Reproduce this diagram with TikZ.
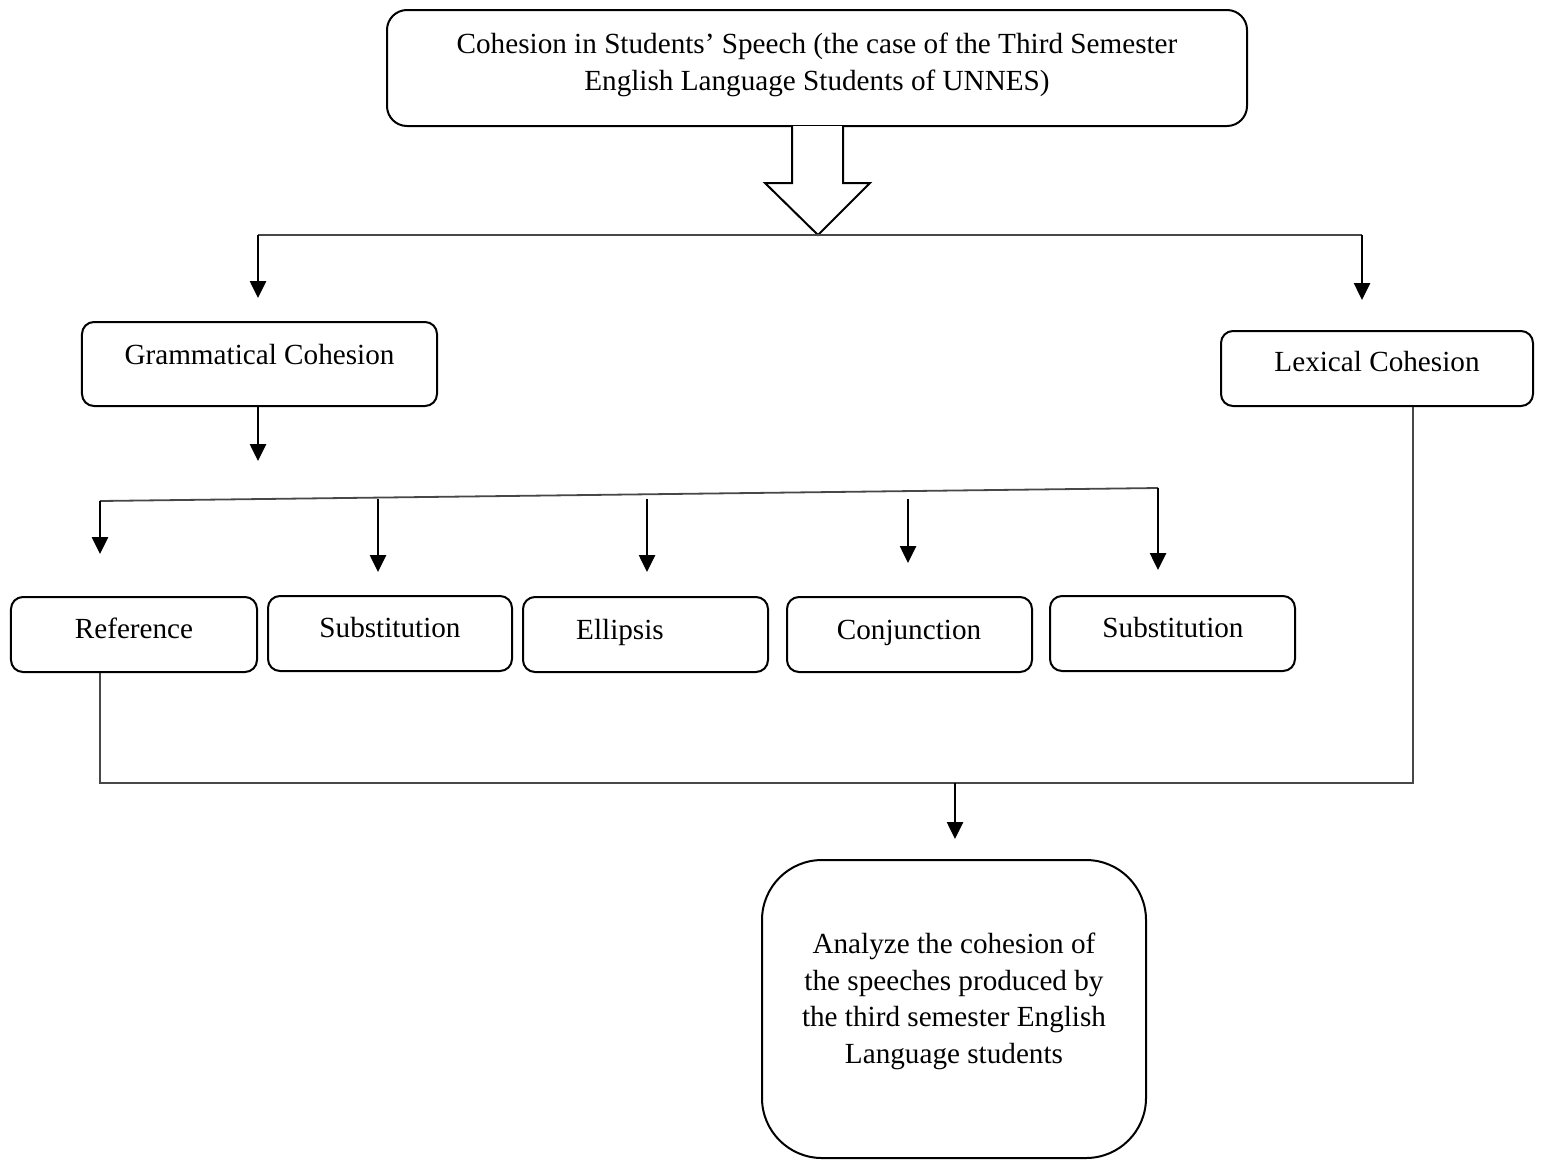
\documentclass[tikz,border=0pt]{standalone}
\usepackage{fontspec}
\setmainfont{Liberation Serif}
\usetikzlibrary{arrows.meta}
\tikzset{
  box/.style={draw, line width=2bp, rounded corners=12bp, inner sep=0pt},
  txt/.style={inner sep=0pt, anchor=base, align=center},
  conn/.style={draw=black!72, line width=1.8bp},
  arr/.style={draw=black, line width=2.6bp, -{Triangle[length=17bp,width=16bp]}},
}
\begin{document}
\begin{tikzpicture}[x=1bp,y=-1bp, font=\fontsize{29.3}{37}\selectfont]
\useasboundingbox (0,0) rectangle (1541,1159);
% boxes
\node[box, rounded corners=20bp, minimum width=860bp, minimum height=116bp] (title) at (817,68) {};
\node[box, minimum width=355bp, minimum height=84bp] (gc) at (259.5,364) {};
\node[box, minimum width=312bp, minimum height=75bp] (lc) at (1377,368.5) {};
\node[box, minimum width=246bp, minimum height=75bp] (ref) at (134,634.5) {};
\node[box, minimum width=244bp, minimum height=75bp] (sub1) at (390,633.5) {};
\node[box, minimum width=245bp, minimum height=75bp] (ell) at (645.5,634.5) {};
\node[box, minimum width=245bp, minimum height=75bp] (conj) at (909.5,634.5) {};
\node[box, minimum width=245bp, minimum height=75bp] (sub2) at (1172.5,633.5) {};
\node[box, rounded corners=60bp, minimum width=384bp, minimum height=298bp] (final) at (954,1009) {};
% texts
\node[txt] (titlet) at (817,90) {Cohesion in Students’ Speech (the case of the Third Semester\\English Language Students of UNNES)};
\node[txt] (gct) at (259.5,364) {Grammatical Cohesion};
\node[txt] (lct) at (1377,371) {Lexical Cohesion};
\node[txt] (reft) at (134,638) {Reference};
\node[txt] (sub1t) at (390,637) {Substitution};
\node[txt] (ellt) at (620,639) {Ellipsis};
\node[txt] (conjt) at (909,639) {Conjunction};
\node[txt] (sub2t) at (1173,637) {Substitution};
\node[txt, font=\fontsize{29.3}{36.6}\selectfont] (finalt) at (954,1063) {Analyze the cohesion of\\the speeches produced by\\the third semester English\\Language students};
% hollow arrow
\coordinate (split) at (818,235);
\draw[line width=2bp, line join=miter, fill=white] (792,126) -- (792,183) -- (765,183) -- (split) -- (870,183) -- (843,183) -- (843,126);
% first split
\coordinate (sl) at (258,235);
\coordinate (sr) at (1362,235);
\coordinate (gcin) at (258,298);
\coordinate (lcin) at (1362,300);
\draw[conn] (sl) -- (sr);
\draw[arr] (sl) -- (gcin);
\draw[arr] (sr) -- (lcin);
% second split
\coordinate (gcout) at (258,461);
\draw[arr] (gc.south -| gcout) -- (gcout);
\coordinate (tl) at (100,501);
\coordinate (tr) at (1158,488);
\draw[conn] (tl) -- (tr);
\coordinate (refin) at (100,554);
\coordinate (s2in) at (1158,570);
\draw[arr] (tl) -- (refin);
\draw[arr] (tr) -- (s2in);
\coordinate (a1s) at (378,499); \coordinate (a1e) at (378,572);
\coordinate (a2s) at (647,499); \coordinate (a2e) at (647,572);
\coordinate (a3s) at (908,499); \coordinate (a3e) at (908,563);
\draw[arr] (a1s) -- (a1e);
\draw[arr] (a2s) -- (a2e);
\draw[arr] (a3s) -- (a3e);
% merge
\coordinate (ml) at (100,783);
\coordinate (mr) at (1413,783);
\coordinate (mid) at (955,783);
\coordinate (finin) at (955,839);
\draw[conn] (ref.south -| ml) -- (ml) -- (mr) -- (lc.south -| mr);
\draw[arr] (mid) -- (finin);
\end{tikzpicture}
\end{document}
